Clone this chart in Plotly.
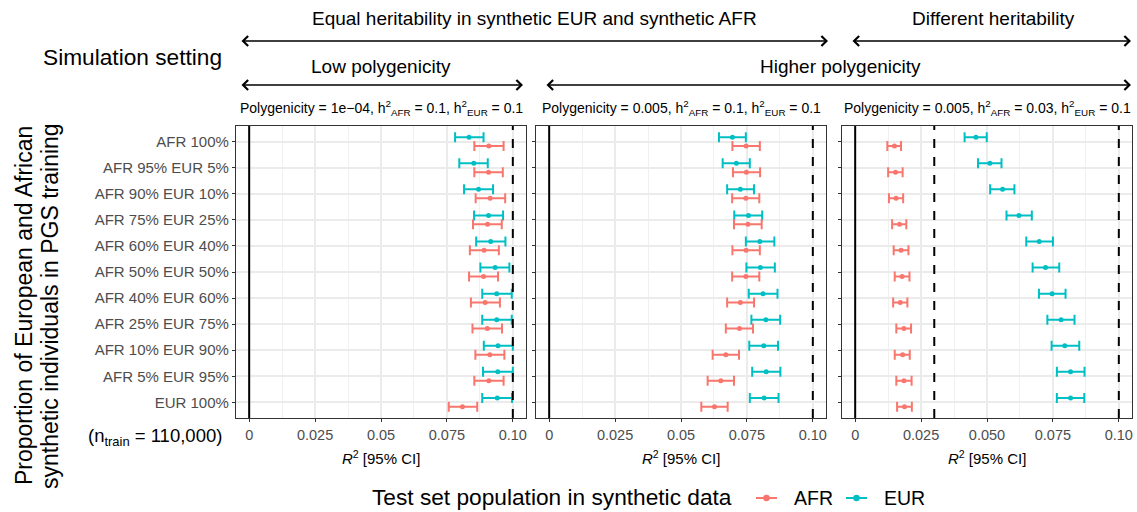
import plotly.graph_objects as go

W, H = 1137, 512

categories = ["AFR 100%", "AFR 95% EUR 5%", "AFR 90% EUR 10%", "AFR 75% EUR 25%",
              "AFR 60% EUR 40%", "AFR 50% EUR 50%", "AFR 40% EUR 60%", "AFR 25% EUR 75%",
              "AFR 10% EUR 90%", "AFR 5% EUR 95%", "EUR 100%"]

panel_titles = [
    "Polygenicity = 1e\u221204, h<sup>2</sup><sub>AFR</sub> = 0.1, h<sup>2</sup><sub>EUR</sub> = 0.1",
    "Polygenicity = 0.005, h<sup>2</sup><sub>AFR</sub> = 0.1, h<sup>2</sup><sub>EUR</sub> = 0.1",
    "Polygenicity = 0.005, h<sup>2</sup><sub>AFR</sub> = 0.03, h<sup>2</sup><sub>EUR</sub> = 0.1",
]

# Panel 1: low polygenicity, equal heritability
p1_eur_mid = [0.0834, 0.0852, 0.0870, 0.0908, 0.0916, 0.0933, 0.0939, 0.0939, 0.0944, 0.0943, 0.0941]
p1_eur_lo  = [0.0781, 0.0797, 0.0815, 0.0853, 0.0861, 0.0877, 0.0884, 0.0884, 0.0890, 0.0887, 0.0884]
p1_eur_hi  = [0.0889, 0.0905, 0.0925, 0.0963, 0.0972, 0.0987, 0.0996, 0.0996, 0.1000, 0.1000, 0.0997]
p1_afr_mid = [0.0909, 0.0908, 0.0914, 0.0904, 0.0891, 0.0889, 0.0895, 0.0903, 0.0913, 0.0909, 0.0809]
p1_afr_lo  = [0.0854, 0.0854, 0.0859, 0.0849, 0.0837, 0.0834, 0.0841, 0.0847, 0.0858, 0.0854, 0.0757]
p1_afr_hi  = [0.0965, 0.0962, 0.0971, 0.0958, 0.0947, 0.0944, 0.0951, 0.0959, 0.0968, 0.0965, 0.0865]

# Panel 2: higher polygenicity, equal heritability
p2_eur_mid = [0.0695, 0.0710, 0.0725, 0.0756, 0.0799, 0.0801, 0.0811, 0.0822, 0.0814, 0.0823, 0.0815]
p2_eur_lo  = [0.0644, 0.0658, 0.0675, 0.0702, 0.0746, 0.0748, 0.0757, 0.0767, 0.0759, 0.0770, 0.0761]
p2_eur_hi  = [0.0746, 0.0761, 0.0777, 0.0808, 0.0854, 0.0856, 0.0866, 0.0876, 0.0868, 0.0877, 0.0870]
p2_afr_mid = [0.0747, 0.0748, 0.0746, 0.0754, 0.0747, 0.0746, 0.0725, 0.0722, 0.0670, 0.0651, 0.0627]
p2_afr_lo  = [0.0695, 0.0697, 0.0694, 0.0701, 0.0695, 0.0694, 0.0675, 0.0670, 0.0620, 0.0601, 0.0577]
p2_afr_hi  = [0.0799, 0.0800, 0.0797, 0.0806, 0.0799, 0.0797, 0.0777, 0.0773, 0.0720, 0.0701, 0.0677]

# Panel 3: higher polygenicity, different heritability
p3_eur_mid = [0.0458, 0.0511, 0.0559, 0.0621, 0.0698, 0.0722, 0.0747, 0.0781, 0.0795, 0.0817, 0.0817]
p3_eur_lo  = [0.0415, 0.0466, 0.0512, 0.0574, 0.0649, 0.0673, 0.0697, 0.0729, 0.0745, 0.0765, 0.0765]
p3_eur_hi  = [0.0499, 0.0555, 0.0604, 0.0670, 0.0750, 0.0774, 0.0798, 0.0832, 0.0850, 0.0870, 0.0869]
p3_afr_mid = [0.0149, 0.0153, 0.0155, 0.0168, 0.0174, 0.0178, 0.0171, 0.0185, 0.0180, 0.0185, 0.0187]
p3_afr_lo  = [0.0122, 0.0125, 0.0128, 0.0140, 0.0146, 0.0150, 0.0144, 0.0156, 0.0150, 0.0156, 0.0159]
p3_afr_hi  = [0.0174, 0.0180, 0.0182, 0.0194, 0.0202, 0.0206, 0.0198, 0.0212, 0.0207, 0.0214, 0.0215]

# reference lines (heritabilities)
solid_ref = [0.0, 0.0, 0.0]
dashed_ref = [[0.1], [0.1], [0.03, 0.1]]

x_tickvals = [0, 0.025, 0.05, 0.075, 0.10]
x_ticktext = [["0", "0.025", "0.05", "0.075", "0.10"],
              ["0", "0.025", "0.05", "0.075", "0.10"],
              ["0", "0.025", "0.050", "0.075", "0.10"]]

legend_names = ["AFR", "EUR"]

AFR_C = "#F8766D"
EUR_C = "#00BFC4"
FONT = "Liberation Sans, Arial, sans-serif"

panels = [
    (p1_eur_mid, p1_eur_lo, p1_eur_hi, p1_afr_mid, p1_afr_lo, p1_afr_hi),
    (p2_eur_mid, p2_eur_lo, p2_eur_hi, p2_afr_mid, p2_afr_lo, p2_afr_hi),
    (p3_eur_mid, p3_eur_lo, p3_eur_hi, p3_afr_mid, p3_afr_lo, p3_afr_hi),
]

# pixel layout
x_dom_px = [(236, 526), (536, 826), (842, 1132)]
y_top_px, y_bot_px = 126, 418
dodge = 0.17

def px(x):
    return x / W

def py(y):
    return 1 - y / H

fig = go.Figure()
ypos = list(range(1, len(categories) + 1))

for k, (em, el, eh, am, al, ah) in enumerate(panels):
    xa = "x" if k == 0 else f"x{k+1}"
    ya = "y" if k == 0 else f"y{k+1}"
    for name, mid, lo, hi, col, off in [("EUR", em, el, eh, EUR_C, -dodge),
                                         ("AFR", am, al, ah, AFR_C, dodge)]:
        fig.add_trace(go.Scatter(
            x=mid, y=[p + off for p in ypos], mode="markers",
            marker=dict(color=col, size=5),
            error_x=dict(type="data", symmetric=False,
                         array=[h - m for h, m in zip(hi, mid)],
                         arrayminus=[m - l for m, l in zip(mid, lo)],
                         color=col, thickness=2, width=5),
            xaxis=xa, yaxis=ya, showlegend=False, name=name, cliponaxis=False))
    fig.add_shape(type="line", xref=xa, yref=f"{ya} domain", x0=solid_ref[k], x1=solid_ref[k],
                  y0=0, y1=1, line=dict(color="black", width=2))
    for v in dashed_ref[k]:
        fig.add_shape(type="line", xref=xa, yref=f"{ya} domain", x0=v, x1=v,
                      y0=0, y1=1, line=dict(color="black", width=2, dash="dash"))

layout = dict(
    width=W, height=H, margin=dict(l=0, r=0, t=0, b=0),
    plot_bgcolor="white", paper_bgcolor="white",
    font=dict(family=FONT, color="black"),
    showlegend=False,
)

for k in range(3):
    xkey = "xaxis" if k == 0 else f"xaxis{k+1}"
    ykey = "yaxis" if k == 0 else f"yaxis{k+1}"
    ya = "y" if k == 0 else f"y{k+1}"
    xa = "x" if k == 0 else f"x{k+1}"
    layout[xkey] = dict(
        domain=[px(x_dom_px[k][0]), px(x_dom_px[k][1])], anchor=ya,
        range=[-0.005, 0.105], tickmode="array", tickvals=x_tickvals, ticktext=x_ticktext[k],
        showgrid=True, gridcolor="#EBEBEB", gridwidth=1.6,
        minor=dict(tick0=0.0125, dtick=0.025, showgrid=True, gridcolor="#F0F0F0", gridwidth=0.9, ticks=""),
        showline=True, mirror=True, linecolor="#333333", linewidth=1.3,
        ticks="outside", ticklen=3, tickcolor="#333333", tickwidth=1.2,
        tickfont=dict(size=14.5, color="#4D4D4D", family=FONT), zeroline=False,
    )
    yd = dict(
        domain=[py(y_bot_px), py(y_top_px)], anchor=xa,
        range=[len(categories) + 0.6, 0.4], tickmode="array", tickvals=ypos,
        showgrid=True, gridcolor="#EBEBEB", gridwidth=1.6,
        showline=True, mirror=True, linecolor="#333333", linewidth=1.3,
        ticks="outside", ticklen=3, tickcolor="#333333", tickwidth=1.2,
        tickfont=dict(size=15, color="#4D4D4D", family=FONT), zeroline=False,
    )
    if k == 0:
        yd["ticktext"] = categories
    else:
        yd["showticklabels"] = False
    layout[ykey] = yd

fig.update_layout(**layout)

ann = []
def text(x, y, s, size, xanchor="center", color="black", **kw):
    ann.append(dict(x=px(x), y=py(y), xref="paper", yref="paper", text=s, showarrow=False,
                    xanchor=xanchor, yanchor="middle", font=dict(size=size, color=color, family=FONT), **kw))

for k, (a, b) in enumerate(x_dom_px):
    c = (a + b) / 2
    text(c, 108, panel_titles[k], 14)
    text(c, 457, "<i>R</i><sup>2</sup> [95% CI]", 15)

text(534, 18, "Equal heritability in synthetic EUR and synthetic AFR", 19)
text(993, 18, "Different heritability", 19)
text(381, 66, "Low polygenicity", 19)
text(840, 66, "Higher polygenicity", 19)
text(132, 57, "Simulation setting", 22.7)
text(224, 437, "(n<sub>train</sub> = 110,000)", 18.5, xanchor="right")
text(24, 306, "Proportion of European and African", 23, textangle=-90)
text(50, 306, "synthetic individuals in PGS training", 23, textangle=-90)

# manual legend
text(370, 497, "Test set population in synthetic data", 22.7, xanchor="left")
shapes = []
for name, col, (l0, l1), lx in zip(legend_names, [AFR_C, EUR_C], [(756, 777), (846, 867)], [792, 882]):
    shapes.append(dict(type="line", xref="paper", yref="paper", x0=px(l0), x1=px(l1),
                       y0=py(498), y1=py(498), line=dict(color=col, width=2)))
    cx = (l0 + l1) / 2
    shapes.append(dict(type="circle", xref="paper", yref="paper", x0=px(cx - 3.3), x1=px(cx + 3.3),
                       y0=py(498 + 3.3), y1=py(498 - 3.3), fillcolor=col, line=dict(color=col, width=0)))
    text(lx, 498, name, 19.5, xanchor="left")

# double arrows
for (x0, x1, yy) in [(240, 828, 41), (851, 1131, 41), (240, 523, 85), (545, 1131, 85)]:
    ann.append(dict(x=px(x1), y=py(yy), xref="paper", yref="paper", ax=-(x1 - x0), ay=0,
                    axref="pixel", ayref="pixel", showarrow=True, arrowhead=4, startarrowhead=4,
                    arrowside="end+start", arrowsize=1.3, arrowwidth=1.5, arrowcolor="black", text=""))

fig.update_layout(annotations=ann)
for s in shapes:
    fig.add_shape(**s)
fig.write_html("out.html")
